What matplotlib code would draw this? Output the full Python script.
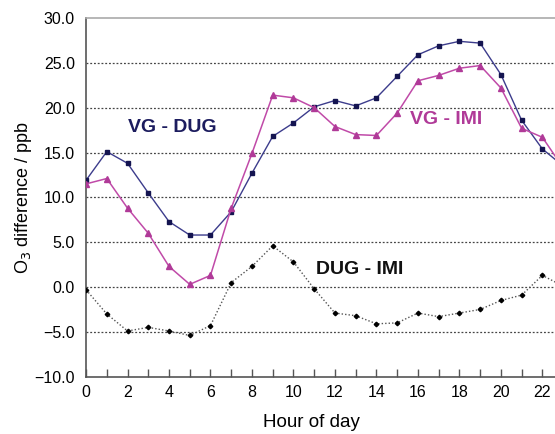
import matplotlib
matplotlib.use("Agg")
import matplotlib.pyplot as plt

plt.rcParams['font.family'] = ['Liberation Sans', 'DejaVu Sans']

# hourly O3 differences (ppb)
hours = list(range(24))
vg_dug = [11.9, 15.1, 13.8, 10.5, 7.3, 5.8, 5.8, 8.4, 12.7, 16.8, 18.3, 20.1,
          20.8, 20.2, 21.1, 23.5, 25.9, 26.9, 27.4, 27.2, 23.7, 18.6, 15.4, 13.5]
vg_imi = [11.5, 12.1, 8.8, 6.0, 2.3, 0.3, 1.3, 8.8, 14.9, 21.4, 21.1, 20.0,
          17.9, 17.0, 16.9, 19.4, 23.0, 23.6, 24.4, 24.7, 22.2, 17.7, 16.7, 13.3]
dug_imi = [-0.3, -3.0, -4.9, -4.5, -4.9, -5.4, -4.3, 0.5, 2.3, 4.6, 2.8, -0.2,
           -2.9, -3.2, -4.1, -4.0, -2.9, -3.3, -2.9, -2.5, -1.5, -0.9, 1.3, 0.1]

y_ticks = [-10, -5, 0, 5, 10, 15, 20, 25, 30]
x_ticks = list(range(0, 24, 2))

fig = plt.figure(figsize=(5.55, 4.34), dpi=100)
ax = fig.add_axes([0.155, 0.132, 0.897, 0.8265])

for y in y_ticks[1:-1]:
    ax.axhline(y, color='#444444', lw=0.9, ls=(0, (1.5, 1.5)), zorder=1)

ax.plot(hours, vg_dug, color='#3c3c8c', lw=1.0, marker='s', ms=3.5,
        mfc='#141450', mec='#141450', zorder=3)
ax.plot(hours, vg_imi, color='#c04aa8', lw=1.1, marker='^', ms=4,
        mfc='#b03a98', mec='#b03a98', zorder=3)
ax.plot(hours, dug_imi, color='#555555', lw=1.0, ls=(0, (1, 1.5)), marker='D', ms=2.3,
        mfc='black', mec='black', zorder=3)

ax.text(4.17, 17.8, 'VG - DUG', color='#1c1c5e', fontsize=14, fontweight='bold',
        ha='center', va='center')
ax.text(17.34, 18.7, 'VG - IMI', color='#b03a98', fontsize=14, fontweight='bold',
        ha='center', va='center')
ax.text(13.2, 2.0, 'DUG - IMI', color='#111111', fontsize=14, fontweight='bold',
        ha='center', va='center')

ax.set_xlim(0, 24)
ax.set_ylim(-10, 30)
ax.set_xticks(x_ticks)
ax.set_xticks(hours, minor=True)
ax.set_yticks(y_ticks)
ax.set_yticklabels(['\u2212{:.1f}'.format(-v) if v < 0 else '{:.1f}'.format(v) for v in y_ticks])

ax.tick_params(axis='x', which='both', direction='in', length=6, width=1, color='#555555',
               labelsize=11.5, pad=6)
ax.tick_params(axis='y', length=0, labelsize=11.5, pad=8)

ax.spines['left'].set_color('#555555')
ax.spines['bottom'].set_color('#555555')
ax.spines['top'].set_color('#aaaaaa')
ax.spines['right'].set_visible(False)
for s in ['left', 'bottom', 'top']:
    ax.spines[s].set_linewidth(1.2)

ax.set_xlabel('Hour of day', fontsize=13.5)
ax.xaxis.set_label_coords(0.452, -0.105)
ax.set_ylabel('O$_3$ difference / ppb', fontsize=13, labelpad=0)

fig.savefig('out.png', dpi=100)
